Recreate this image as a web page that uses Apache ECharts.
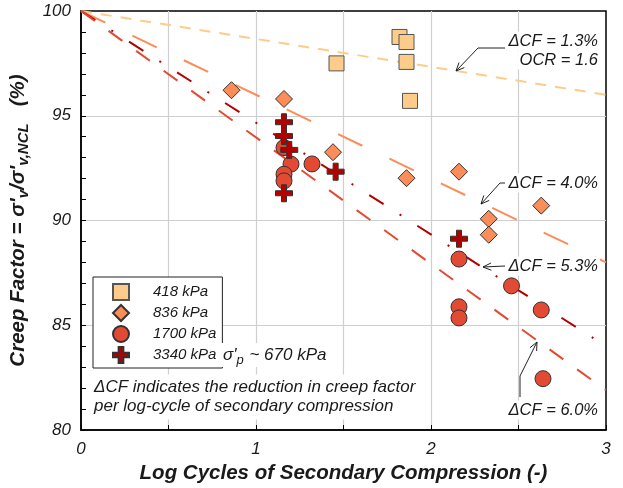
<!DOCTYPE html>
<html>
<head>
<meta charset="utf-8">
<script src="https://cdn.jsdelivr.net/npm/echarts@6/dist/echarts.min.js"></script>
<style>
html,body{margin:0;padding:0;background:#fff;}
#main{width:623px;height:488px;}
</style>
</head>
<body>
<div id="main"></div>
<script>
// data
var seriesNames = ['418 kPa', '836 kPa', '1700 kPa', '3340 kPa'];
var pts418 = [[1.46, 97.5], [1.82, 98.76], [1.86, 98.52], [1.86, 97.57], [1.88, 95.71]];
var pts836 = [[0.86, 96.22], [1.16, 95.8], [1.44, 93.26], [1.86, 92.02], [2.16, 92.33], [2.33, 90.08], [2.33, 89.32], [2.63, 90.71]];
var pts1700 = [[1.16, 93.48], [1.2, 92.69], [1.32, 92.7], [1.16, 92.21], [1.16, 91.89], [2.16, 88.16], [2.46, 86.88], [2.63, 85.73], [2.16, 85.88], [2.16, 85.35], [2.64, 82.45]];
var pts3340 = [[1.16, 94.69], [1.16, 94.03], [1.19, 93.37], [1.16, 91.3], [1.455, 92.33], [2.16, 89.13]];

var fitNames = ['CF 1.3', 'CF 4.0', 'CF 5.3', 'CF 6.0'];
var fitLines = [
    [[0, 100], [3, 96.0]],
    [[0, 100], [3, 88.0]],
    [[0, 100], [3, 84.0]],
    [[0, 100], [3, 81.9]]
];

var xTicks = [0, 1, 2, 3];

var FONT = '"Liberation Sans", Arial, sans-serif';
var colors = ['#fdcc8a', '#fc8d59', '#e34a33', '#b30000'];
var fitColors = ['#fdcc8a', '#fc8d59', '#b30000', '#e34a33'];
var fitDash = [[11, 9], [27, 30], [17, 19, 2, 19], [17, 17]];
var crossPath = 'path://M6,0H11V6H17V11H11V17H6V11H0V6H6Z';

var chart = echarts.init(document.getElementById('main'));

var series = [];
// fitted lines
for (var i = 0; i < fitLines.length; i++) {
    series.push({
        name: fitNames[i],
        type: 'line',
        data: fitLines[i],
        symbol: 'none',
        silent: true,
        lineStyle: {color: fitColors[i], width: 2, type: fitDash[i]},
        z: 1
    });
}
var ptSets = [pts418, pts836, pts1700, pts3340];
var symbols = ['rect', 'diamond', 'circle', crossPath];
var sizes = [15, 17, 16, 17];
var borders = ['#555', '#333', '#333', '#333'];
for (var j = 0; j < ptSets.length; j++) {
    series.push({
        name: seriesNames[j],
        type: 'scatter',
        data: ptSets[j],
        symbol: symbols[j],
        symbolSize: sizes[j],
        itemStyle: {color: colors[j], borderColor: borders[j], borderWidth: 1, opacity: 1},
        z: 2 + j
    });
}

function arrow(pts) {
    var n = pts.length;
    var p1 = pts[n - 2], p2 = pts[n - 1];
    var ang = Math.atan2(p2[1] - p1[1], p2[0] - p1[0]);
    var L = 9, w = 0.42;
    var h1 = [p2[0] - L * Math.cos(ang - w), p2[1] - L * Math.sin(ang - w)];
    var h2 = [p2[0] - L * Math.cos(ang + w), p2[1] - L * Math.sin(ang + w)];
    var st = {stroke: '#222', lineWidth: 1, fill: null};
    return [
        {type: 'polyline', z: 100, shape: {points: pts}, style: st},
        {type: 'polyline', z: 100, shape: {points: [h1, p2, h2]}, style: st}
    ];
}

function label(text, x, y, align) {
    return {
        type: 'text', z: 101,
        style: {
            text: text, x: x, y: y, align: align || 'right', verticalAlign: 'middle',
            font: 'italic 16.5px ' + FONT, fill: '#1a1a1a',
            backgroundColor: '#fff', padding: [1, 2, 1, 2]
        }
    };
}

var graphics = [];
graphics = graphics.concat(arrow([[505, 48], [478, 48], [456, 71]]));
graphics = graphics.concat(arrow([[505, 183], [500, 183], [481, 204]]));
graphics = graphics.concat(arrow([[505, 266], [483, 267]]));
graphics = graphics.concat(arrow([[520, 397], [520, 376], [537, 342]]));
graphics.push(label('ΔCF = 1.3%', 600, 41));
graphics.push(label('OCR = 1.6', 600, 60));
graphics.push(label('ΔCF = 4.0%', 600, 183));
graphics.push(label('ΔCF = 5.3%', 600, 266));
graphics.push(label('ΔCF = 6.0%', 600, 410));
graphics.push({
    type: 'text', z: 101,
    style: {
        text: "{a|σ'}{s|p}{a| ~ 670 kPa}", x: 221, y: 355, align: 'left', verticalAlign: 'middle',
        backgroundColor: '#fff', padding: [0, 2, 0, 2],
        rich: {
            a: {font: 'italic 17px ' + FONT, fill: '#1a1a1a'},
            s: {font: 'italic 13px ' + FONT, fill: '#1a1a1a', padding: [11, 1, 0, 0]}
        }
    }
});
graphics.push({
    type: 'text', z: 101,
    style: {
        text: 'ΔCF indicates the reduction in creep factor\nper log-cycle of secondary compression',
        x: 92, y: 397, align: 'left', verticalAlign: 'middle',
        font: 'italic 17px ' + FONT, fill: '#1a1a1a', lineHeight: 19,
        backgroundColor: '#fff', padding: [3, 3, 4, 2]
    }
});

var option = {
    animation: false,
    backgroundColor: '#fff',
    grid: {left: 81, right: 17, top: 11, bottom: 58, show: true, borderColor: '#000', borderWidth: 1.5, backgroundColor: 'transparent'},
    legend: {
        data: seriesNames,
        orient: 'vertical',
        left: 93, top: 277,
        itemWidth: 16, itemHeight: 16, itemGap: 3,
        padding: [6, 6, 4, 19],
        borderColor: '#222', borderWidth: 1, backgroundColor: '#fff',
        formatter: function (name) { return '{p|}{t|' + name + '}'; },
        textStyle: {
            rich: {
                p: {width: 19, height: 16, lineHeight: 16},
                t: {fontFamily: FONT, fontStyle: 'italic', fontSize: 15, color: '#1a1a1a', height: 16, lineHeight: 16}
            }
        },
        z: 50
    },
    xAxis: {
        type: 'value', min: 0, max: 3, interval: 0.5,
        name: 'Log Cycles of Secondary Compression (-)',
        nameLocation: 'middle', nameGap: 25,
        nameTextStyle: {fontFamily: FONT, fontStyle: 'italic', fontWeight: 'bold', fontSize: 20.5, color: '#1a1a1a'},
        axisLine: {lineStyle: {color: '#000', width: 1.5}},
        axisTick: {inside: true, length: 5, lineStyle: {color: '#000'}},
        axisLabel: {
            margin: 11, fontFamily: FONT, fontStyle: 'italic', fontSize: 17, color: '#1a1a1a',
            formatter: function (v) { return xTicks.indexOf(v) >= 0 ? String(v) : ''; }
        },
        splitLine: {show: true, showMinLine: false, showMaxLine: false, lineStyle: {color: '#cfcfcf', width: 1.2}}
    },
    yAxis: {
        type: 'value', min: 80, max: 100, interval: 5,
        name: "{a|Creep Factor = σ'}{s|v}{a|/σ'}{s|v,NCL}{a|   (%)}",
        nameLocation: 'middle', nameGap: 40,
        nameTextStyle: {
            rich: {
                a: {fontFamily: FONT, fontStyle: 'italic', fontWeight: 'bold', fontSize: 20.5, color: '#1a1a1a'},
                s: {fontFamily: FONT, fontStyle: 'italic', fontWeight: 'bold', fontSize: 15, color: '#1a1a1a', padding: [11, 0, 0, 0]}
            }
        },
        axisLine: {show: true, lineStyle: {color: '#000', width: 1.5}},
        axisTick: {inside: true, length: 5, lineStyle: {color: '#000'}},
        minorTick: {show: true, splitNumber: 5, length: 5, lineStyle: {color: '#000'}},
        axisLabel: {margin: 10, fontFamily: FONT, fontStyle: 'italic', fontSize: 17, color: '#1a1a1a'},
        splitLine: {show: true, showMinLine: false, showMaxLine: false, lineStyle: {color: '#cfcfcf', width: 1.2}}
    },
    graphic: graphics,
    series: series
};
chart.setOption(option);
</script>
</body>
</html>
